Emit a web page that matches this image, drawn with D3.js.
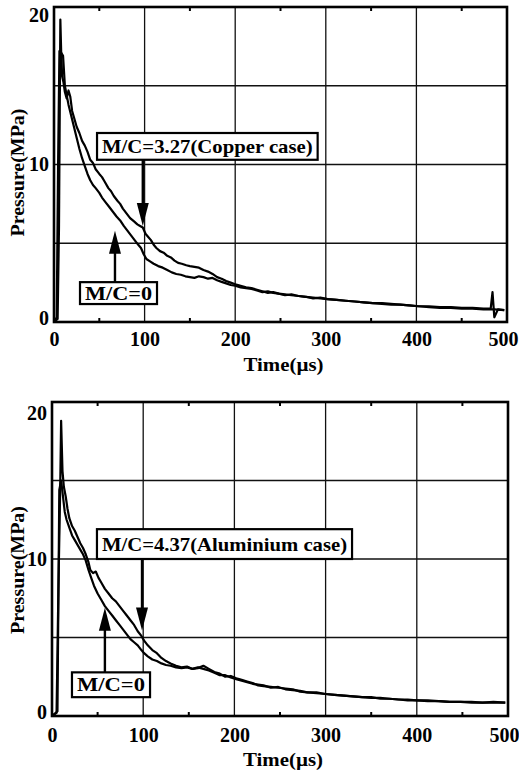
<!DOCTYPE html>
<html>
<head>
<meta charset="utf-8">
<script src="https://cdn.jsdelivr.net/npm/d3@7/dist/d3.min.js"></script>
<style>
  html, body { margin: 0; padding: 0; background: #fff; }
  svg { display: block; }
  svg text { font-family: 'Liberation Serif', 'Times New Roman', Times, serif !important; font-weight: bold; fill: #000; }
</style>
</head>
<body>
<svg id="chart" width="519" height="773"></svg>
<script>
// ---------- DATA ----------
const xTicks = [0, 100, 200, 300, 400, 500];
const xMinorTicks = [50, 150, 250, 350, 450];
const yTickLabels = [0, 10, 20];
const yGrid = [5, 10, 15];
const xLabel = "Time(\u00b5s)";
const yLabel = "Pressure(MPa)";

// top panel: copper case vs bare charge  [time µs, pressure MPa]
const topCopper = [[0,0],[4,0.2],[5.5,6],[7,19.2],[8,17],[9,15.6],[10.5,15.2],[12,14.6],[14,14.2],[16,14.7],[18,14.3],[20,13.4],[22,13.0],[25,12.4],[28,12.0],[31,11.5],[34,11.2],[37,10.8],[40,10.3],[43,10.1],[46,9.7],[50,9.4],[53,9.2],[56,8.9],[60,8.5],[63,8.3],[66,8.0],[70,7.7],[73,7.5],[76,7.2],[80,6.9],[84,6.6],[88,6.4],[92,6.2],[95,6.1],[98,6.0],[101,5.6],[104,5.4],[107,5.2],[110,4.9],[113,4.7],[117,4.5],[121,4.4],[125,4.2],[129,4.1],[133,3.9],[137,3.75],[141,3.7],[146,3.6],[150,3.55],[155,3.5],[160,3.45],[165,3.3],[170,3.2],[175,3.05],[180,2.85],[185,2.75],[190,2.6],[195,2.5],[200,2.4],[206,2.3],[212,2.2],[218,2.15],[224,2.05],[230,1.95],[236,1.85],[242,1.9],[248,1.8],[255,1.75],[262,1.7],[270,1.65],[278,1.6],[286,1.55],[294,1.5],[302,1.45],[312,1.4],[322,1.35],[332,1.3],[342,1.25],[352,1.2],[362,1.2],[372,1.15],[382,1.1],[392,1.05],[402,1.0],[414,1.0],[426,0.95],[438,0.95],[450,0.9],[462,0.9],[474,0.85],[482,0.85],[484,1.9],[486,0.3],[490,0.8],[497,0.75]];
const topBare = [[0,0],[3,0.3],[4.5,10],[6,17.2],[8,17.1],[10,16.9],[12,15.0],[14,14.4],[16,13.8],[19,13.1],[22,12.4],[25,11.7],[28,11.0],[31,10.4],[34,9.9],[37,9.4],[40,9.0],[43,8.7],[46,8.5],[50,8.2],[53,7.9],[57,7.6],[61,7.3],[65,7.0],[69,6.7],[73,6.45],[77,6.1],[81,5.8],[85,5.5],[89,5.2],[93,4.9],[96,4.7],[99,4.3],[102,4.0],[106,3.85],[110,3.7],[115,3.55],[120,3.45],[125,3.3],[130,3.15],[135,3.05],[140,3.0],[145,2.9],[150,2.85],[155,2.8],[160,2.9],[165,2.85],[170,2.75],[175,2.8],[180,2.65],[185,2.55],[190,2.45],[195,2.35],[200,2.3],[206,2.2],[212,2.15],[218,2.1],[224,2.0],[230,1.9],[236,1.95],[242,1.85],[248,1.8],[255,1.7],[262,1.75],[270,1.65],[278,1.6],[286,1.5],[294,1.55],[302,1.45],[312,1.4],[322,1.35],[332,1.3],[342,1.25],[352,1.2],[362,1.15],[372,1.1],[382,1.1],[392,1.05],[402,1.0],[414,0.95],[426,0.9],[438,0.9],[450,0.85],[462,0.85],[474,0.8],[486,0.8],[497,0.75]];

// bottom panel: aluminium case vs bare charge
const botAlu = [[0,0],[5,0.2],[7,8],[9,14.5],[10,18.8],[11.5,15.6],[13,14.6],[15,14.0],[17,13.2],[19,12.6],[22,12.1],[25,11.8],[28,11.4],[31,11.0],[34,10.7],[37,10.3],[40,9.8],[42,9.3],[45,9.1],[48,9.2],[51,8.8],[54,8.5],[58,8.1],[62,7.8],[66,7.5],[70,7.3],[74,7.0],[78,6.7],[82,6.4],[86,6.1],[90,5.8],[94,5.4],[98,5.1],[101,4.8],[105,4.5],[110,4.2],[115,4.0],[120,3.7],[125,3.5],[130,3.35],[136,3.2],[142,3.1],[148,3.15],[154,3.0],[160,3.05],[166,3.2],[172,3.0],[178,2.8],[184,2.7],[190,2.5],[196,2.55],[202,2.4],[208,2.3],[214,2.2],[220,2.1],[226,1.95],[232,1.9],[240,1.85],[248,1.8],[256,1.75],[264,1.7],[272,1.55],[280,1.5],[290,1.45],[300,1.4],[310,1.35],[320,1.3],[330,1.25],[340,1.2],[350,1.2],[360,1.1],[370,1.1],[380,1.05],[390,1.0],[400,1.0],[412,0.95],[424,0.95],[436,0.9],[448,0.9],[460,0.9],[472,0.85],[484,0.85],[497,0.85]];
const botBare = [[0,0],[6,0.3],[8,14.4],[10,15.0],[12,14.0],[14,13.0],[16,12.5],[19,12.0],[22,11.5],[25,11.2],[28,10.9],[31,10.6],[34,10.3],[37,9.9],[40,9.3],[43,8.8],[46,8.3],[50,7.8],[54,7.4],[58,7.0],[62,6.7],[66,6.4],[70,6.1],[74,5.8],[78,5.5],[82,5.2],[86,4.9],[90,4.7],[94,4.5],[98,4.2],[101,4.0],[105,3.8],[110,3.6],[115,3.5],[120,3.35],[125,3.25],[130,3.2],[136,3.1],[142,3.05],[148,3.1],[154,3.0],[160,3.1],[166,3.0],[172,2.9],[178,2.75],[184,2.6],[190,2.6],[196,2.45],[202,2.35],[208,2.25],[214,2.15],[220,2.05],[226,2.0],[232,1.95],[240,1.8],[248,1.85],[256,1.7],[264,1.65],[272,1.6],[280,1.5],[290,1.5],[300,1.4],[310,1.35],[320,1.3],[330,1.25],[340,1.2],[350,1.15],[360,1.15],[370,1.1],[380,1.05],[390,1.05],[400,1.0],[412,1.0],[424,0.95],[436,0.9],[448,0.9],[460,0.85],[472,0.85],[484,0.9],[497,0.85]];

// annotations (data coordinates): box [t0, t1, pTop, pBottom], arrow at t from p1 to tip p2
const topNotes = [
  {text: "M/C=3.27(Copper case)", box: [47.5, 291, 12.0, 10.3], arrow: {t: 98, from: 10.3, to: 6.1}},
  {text: "M/C=0", box: [28.7, 113.7, 2.53, 1.14], arrow: {t: 67.3, from: 2.53, to: 5.8}}
];
const botNotes = [
  {text: "M/C=4.37(Aluminium case)", box: [49.3, 329, 11.9, 10.0], arrow: {t: 98.7, from: 10.0, to: 5.45}},
  {text: "M/C=0", box: [21.9, 107.5, 2.78, 1.2], arrow: {t: 58, from: 2.78, to: 6.9}}
];

// ---------- DRAW ----------
const svg = d3.select("#chart");
const FONT = "'Liberation Serif', 'Times New Roman', Times, serif";

function panel(cfg) {
  const x = d3.scaleLinear().domain([0, 500]).range([cfg.left, cfg.right]);
  const y = d3.scaleLinear().domain([0, 20]).range([cfg.bottom, cfg.top]);
  const g = svg.append("g");

  // grid
  g.selectAll(".vg").data(xTicks.filter(d => d > 0 && d < 500)).join("line")
    .attr("x1", d => x(d)).attr("x2", d => x(d))
    .attr("y1", y(0)).attr("y2", y(20))
    .attr("stroke", "#111").attr("stroke-width", 1.3);
  g.selectAll(".hg").data(yGrid).join("line")
    .attr("x1", x(0)).attr("x2", x(500))
    .attr("y1", d => y(d)).attr("y2", d => y(d))
    .attr("stroke", "#111").attr("stroke-width", 1.3);

  // minor ticks top & bottom
  xMinorTicks.forEach(t => {
    g.append("line").attr("x1", x(t)).attr("x2", x(t)).attr("y1", y(20)).attr("y2", y(20) + 4)
      .attr("stroke", "#000").attr("stroke-width", 2);
    g.append("line").attr("x1", x(t)).attr("x2", x(t)).attr("y1", y(0)).attr("y2", y(0) - 4)
      .attr("stroke", "#000").attr("stroke-width", 2);
  });

  // curves
  const line = d3.line().x(d => x(d[0])).y(d => y(d[1]));
  cfg.series.forEach(s => {
    g.append("path").datum(s).attr("d", line)
      .attr("fill", "none").attr("stroke", "#000").attr("stroke-width", 2.2)
      .attr("stroke-linejoin", "round");
  });

  // frame
  g.append("rect").attr("x", x(0)).attr("y", y(20))
    .attr("width", x(500) - x(0)).attr("height", y(0) - y(20))
    .attr("fill", "none").attr("stroke", "#000").attr("stroke-width", 2.6);

  // axes labels
  const xa = d3.axisBottom(x).tickValues(xTicks).tickSize(0).tickPadding(cfg.xPad).tickFormat(d3.format("d"));
  const xg = g.append("g").attr("transform", `translate(0,${y(0)})`).call(xa)
    .attr("font-family", FONT).attr("font-size", 20);
  xg.select(".domain").remove();
  xg.selectAll("text").attr("dx", d => d === 500 ? -4 : 0);

  const ya = d3.axisLeft(y).tickValues(yTickLabels).tickSize(0).tickPadding(5).tickFormat(d3.format("d"));
  const yg = g.append("g").attr("transform", `translate(${x(0)},0)`).call(ya)
    .attr("font-family", FONT).attr("font-size", 20);
  yg.select(".domain").remove();
  yg.selectAll("text")
    .attr("dy", d => d === 0 ? "0.12em" : "0.32em")
    .attr("y", d => d === 20 ? cfg.y20shift : 0);

  g.append("text").attr("x", (x(0) + x(500)) / 2 + 3).attr("y", y(0) + cfg.xLabelDy)
    .attr("text-anchor", "middle").attr("font-size", 19).attr("font-family", FONT)
    .attr("textLength", 80).attr("lengthAdjust", "spacingAndGlyphs")
    .text(xLabel);

  const cy = (y(0) + y(20)) / 2 + cfg.yLabelShift;
  g.append("text").attr("transform", `translate(24,${cy}) rotate(-90)`)
    .attr("text-anchor", "middle").attr("font-size", 19).attr("font-family", FONT)
    .attr("textLength", 128).attr("lengthAdjust", "spacingAndGlyphs")
    .text(yLabel);

  // annotations
  cfg.notes.forEach(n => {
    const a = n.arrow;
    const ax = x(a.t), y1 = y(a.from), y2 = y(a.to);
    const dir = y2 > y1 ? 1 : -1;
    const headLen = 23, headW = 6;
    g.append("line").attr("x1", ax).attr("x2", ax).attr("y1", y1).attr("y2", y2 - dir * headLen + dir * 2)
      .attr("stroke", "#000").attr("stroke-width", 2.4);
    g.append("path")
      .attr("d", `M${ax},${y2} L${ax - headW},${y2 - dir * headLen} L${ax + headW},${y2 - dir * headLen} Z`)
      .attr("fill", "#000");

    const bx0 = x(n.box[0]), bx1 = x(n.box[1]), by0 = y(n.box[2]), by1 = y(n.box[3]);
    g.append("rect").attr("x", bx0).attr("y", by0).attr("width", bx1 - bx0).attr("height", by1 - by0)
      .attr("fill", "#fff").attr("stroke", "#000").attr("stroke-width", 2.2);
    g.append("text").attr("x", (bx0 + bx1) / 2).attr("y", (by0 + by1) / 2)
      .attr("dy", "0.34em").attr("text-anchor", "middle").attr("font-size", 19).attr("font-family", FONT)
      .attr("textLength", bx1 - bx0 - 10).attr("lengthAdjust", "spacingAndGlyphs")
      .text(n.text);
  });
}

panel({left: 54, right: 507, top: 7, bottom: 322, xPad: 10, xLabelDy: 49, yLabelShift: 8, y20shift: 8,
       series: [topBare, topCopper], notes: topNotes});
panel({left: 52, right: 508, top: 402, bottom: 716, xPad: 12, xLabelDy: 50, yLabelShift: 11, y20shift: 11,
       series: [botBare, botAlu], notes: botNotes});
</script>
</body>
</html>
